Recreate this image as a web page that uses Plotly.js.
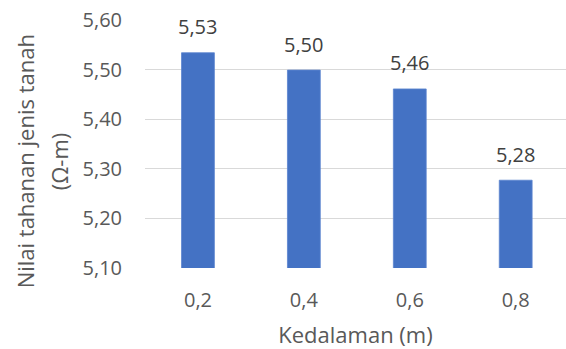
<!DOCTYPE html>
<html>
<head>
<meta charset="utf-8">
<script src="https://cdn.plot.ly/plotly-3.0.1.min.js"></script>
<style>
  html, body { margin: 0; padding: 0; background: #fff; }
  #chart { width: 566px; height: 349px; }
</style>
</head>
<body>
<div id="chart"></div>
<script>
// Soil resistivity by depth
const depths = ['0,2', '0,4', '0,6', '0,8'];
const resistivity = [5.534, 5.499, 5.461, 5.277];
const yTickValues = [5.1, 5.2, 5.3, 5.4, 5.5, 5.6];
const yTickLabels = ['5,10', '5,20', '5,30', '5,40', '5,50', '5,60'];
const yTitleLines = ['Nilai tahanan jenis tanah', '(Ω-m)'];

const FONT = '"Open Sans", "Segoe UI", sans-serif';
const GREY = '#595959';

// Comma decimal labels, two places
const fmt = v => v.toFixed(2).replace('.', ',');

const trace = {
  type: 'bar',
  x: depths,
  y: resistivity,
  marker: { color: '#4472C4', line: { color: '#5b84cf', width: 0.8 } },
  hoverinfo: 'skip'
};

const valueLabels = depths.map((d, i) => ({
  x: d,
  y: resistivity[i],
  xref: 'x',
  yref: 'y',
  text: fmt(resistivity[i]),
  showarrow: false,
  yanchor: 'middle',
  yshift: 26,
  font: { family: FONT, size: 20, color: '#404040' }
}));

// Vertical axis title, one rotated line per entry
const yTitle = yTitleLines.map((line, i) => ({
  x: 0,
  y: 0.43,
  xref: 'paper',
  yref: 'paper',
  xanchor: 'center',
  yanchor: 'middle',
  xshift: -120 + i * 34,
  text: line,
  textangle: -90,
  showarrow: false,
  font: { family: FONT, size: 22, color: GREY }
}));

const layout = {
  width: 566,
  height: 349,
  margin: { l: 145, r: 0, t: 20, b: 81 },
  paper_bgcolor: '#fff',
  plot_bgcolor: '#fff',
  showlegend: false,
  bargap: 0.69,
  font: { family: FONT, color: GREY, size: 20 },
  xaxis: {
    type: 'category',
    range: [-0.5, 3.475],
    showgrid: false,
    zeroline: false,
    showline: false,
    ticks: '',
    ticklabelstandoff: 18,
    tickfont: { family: FONT, size: 20, color: GREY },
    title: {
      text: 'Kedalaman (m)',
      font: { family: FONT, size: 22, color: GREY },
      standoff: 15
    }
  },
  yaxis: {
    range: [5.1, 5.6],
    tickvals: yTickValues,
    ticktext: yTickLabels,
    showgrid: true,
    gridcolor: '#d9d9d9',
    gridwidth: 1.3,
    zeroline: false,
    showline: false,
    ticks: '',
    ticklabelstandoff: 22,
    tickfont: { family: FONT, size: 20, color: GREY }
  },
  annotations: valueLabels.concat(yTitle)
};

Plotly.newPlot('chart', [trace], layout, { displayModeBar: false, staticPlot: true });
</script>
</body>
</html>
